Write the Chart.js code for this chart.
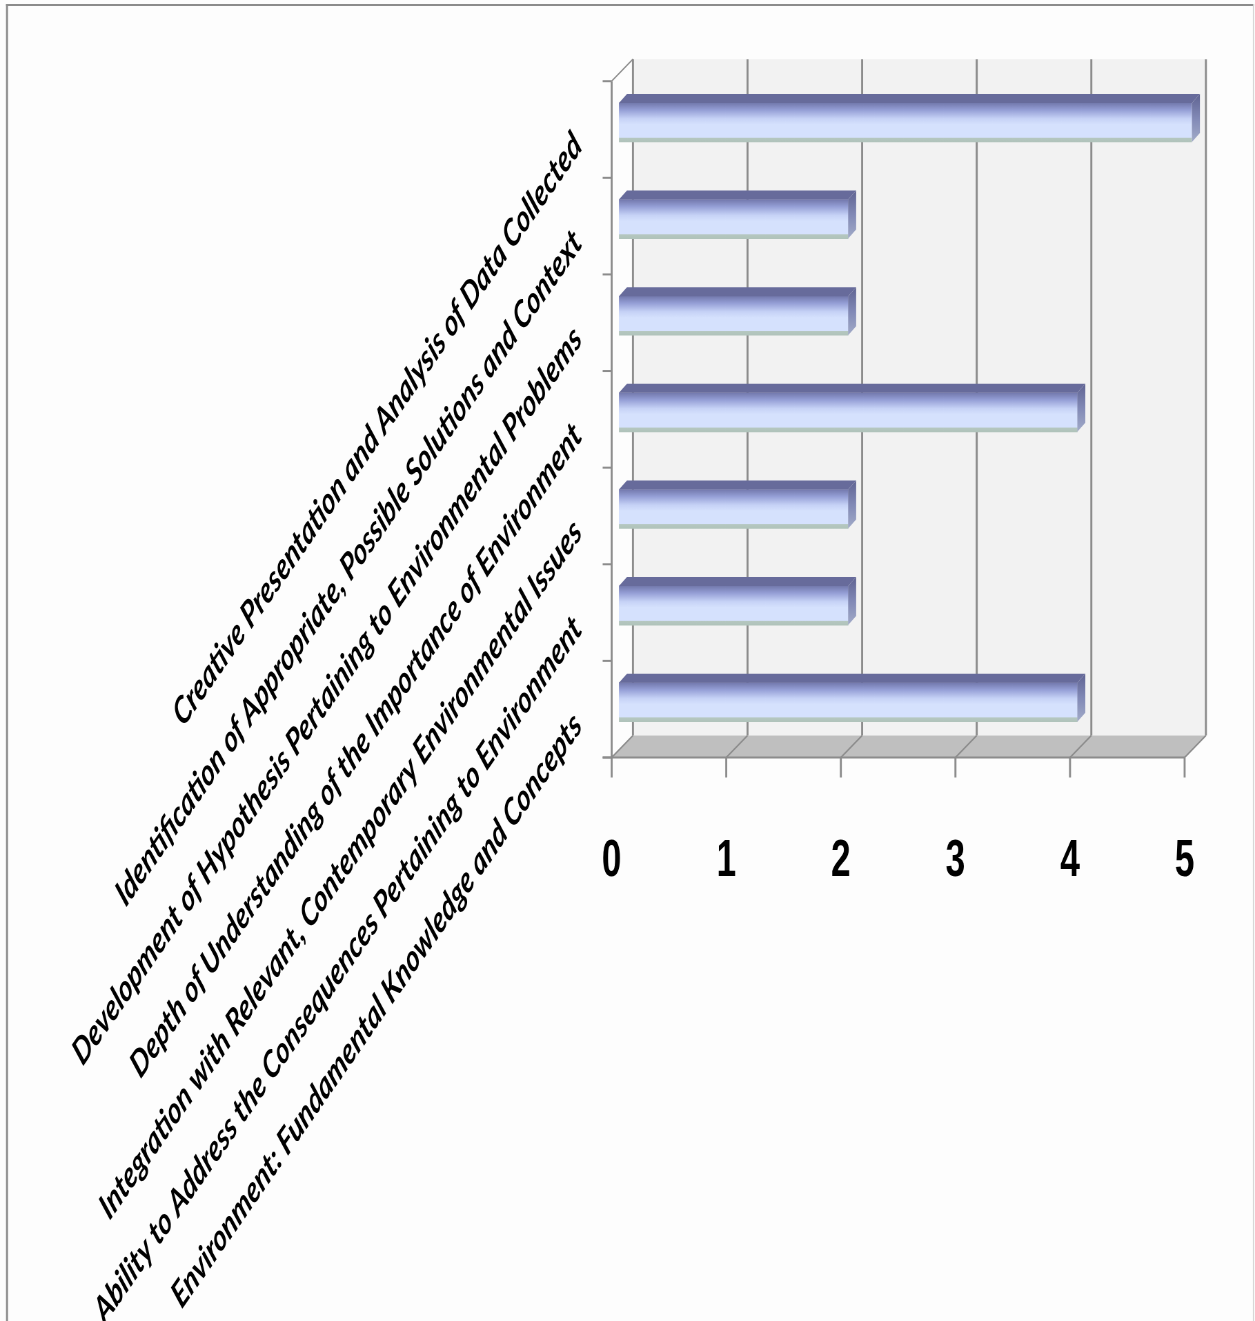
<!DOCTYPE html>
<html>
<head>
<meta charset="utf-8">
<script src="https://cdn.jsdelivr.net/npm/chart.js@4.4.1/dist/chart.umd.min.js"></script>
<style>
  html, body { margin: 0; padding: 0; background: #ffffff; overflow: hidden; }
</style>
</head>
<body>
<canvas id="chart" width="1819" height="1321" style="display:block;width:1255px;height:1321px"></canvas>
<script>
// data
const categories = [
  "Creative Presentation and Analysis of Data Collected",
  "Identification of Appropriate, Possible Solutions and Context",
  "Development of Hypothesis Pertaining to Environmental Problems",
  "Depth of Understanding of the Importance of Environment",
  "Integration with Relevant, Contemporary Environmental Issues",
  "Ability to Address the Consequences Pertaining to Environment",
  "Environment: Fundamental Knowledge and Concepts",
];
const values = [5, 2, 2, 4, 2, 2, 4];
const xTickLabels = ["0", "1", "2", "3", "4", "5"];

// the source picture is squeezed sideways, so the canvas is drawn wider and shown at 1255px
const SX = 0.69;
const W = 1819;
const H = 1321;

// 3D planes, relative to the bar plane (chart area)
const FRONT = { dx: -7.3 / SX, dy: 7 };
const BACK = { dx: 14 / SX, dy: -15 };
const DEPTH = { dx: 8 / SX, dy: -9 };
const BAR_THICK = 39;

const line = (ctx, x1, y1, x2, y2) => {
  ctx.beginPath();
  ctx.moveTo(x1, y1);
  ctx.lineTo(x2, y2);
  ctx.stroke();
};

const poly = (ctx, pts) => {
  ctx.beginPath();
  ctx.moveTo(pts[0][0], pts[0][1]);
  pts.slice(1).forEach((p) => ctx.lineTo(p[0], p[1]));
  ctx.closePath();
  ctx.fill();
};

const scene3d = {
  id: "scene3d",
  beforeDraw(chart) {
    const { ctx } = chart;
    ctx.save();
    ctx.fillStyle = "#fdfdfd";
    ctx.fillRect(0, 0, chart.width, chart.height);
    // outer frame
    ctx.fillStyle = "#8c8c8c";
    ctx.fillRect(6 / SX, 4, 2 / SX, H);
    ctx.fillRect(6 / SX, 4, (1254 - 6) / SX, 2);
    ctx.fillStyle = "#cfcfcf";
    ctx.fillRect(1253 / SX, 4, 1 / SX, H);
    ctx.restore();
  },
  beforeDatasetsDraw(chart) {
    const { ctx, chartArea: a, scales } = chart;
    const xs = scales.x.ticks.map((t) => scales.x.getPixelForValue(t.value));
    const bTop = a.top + BACK.dy;
    const bBot = a.bottom + BACK.dy;
    const fTop = a.top + FRONT.dy;
    const fBot = a.bottom + FRONT.dy;
    const x0 = a.left + FRONT.dx;
    const tickLen = 9 / SX;

    ctx.save();
    // back wall
    ctx.fillStyle = "#f2f2f2";
    ctx.fillRect(a.left + BACK.dx, bTop, a.right - a.left, bBot - bTop);
    // floor
    ctx.fillStyle = "#bfbfbf";
    poly(ctx, [
      [a.left + FRONT.dx, fBot],
      [a.right + FRONT.dx, fBot],
      [a.right + BACK.dx, bBot],
      [a.left + BACK.dx, bBot],
    ]);

    ctx.strokeStyle = "#8c8c8c";
    // back wall gridlines
    ctx.lineWidth = 2 / SX;
    xs.forEach((px) => line(ctx, px + BACK.dx, bTop, px + BACK.dx, bBot));
    // floor gridlines + corner diagonals
    ctx.lineWidth = 1.6;
    xs.forEach((px) => line(ctx, px + FRONT.dx, fBot, px + BACK.dx, bBot));
    line(ctx, x0, fTop, a.left + BACK.dx, bTop);

    // front value axis
    ctx.lineWidth = 2.2;
    line(ctx, x0 - tickLen, fBot, a.right + FRONT.dx, fBot);
    ctx.lineWidth = 2 / SX;
    xs.forEach((px) => line(ctx, px + FRONT.dx, fBot, px + FRONT.dx, fBot + 20));
    // front category axis
    line(ctx, x0, fTop, x0, fBot);
    ctx.lineWidth = 2;
    for (let i = 0; i <= categories.length; i++) {
      const yb = scales.y.getPixelForValue(i - 0.5) + FRONT.dy;
      line(ctx, x0 - tickLen, yb, x0, yb);
    }
    ctx.restore();
  },
  afterDatasetsDraw(chart) {
    const { ctx } = chart;
    const meta = chart.getDatasetMeta(0);
    ctx.save();
    meta.data.forEach((bar) => {
      const { x, y, base, height } = bar.getProps(["x", "y", "base", "height"], true);
      const top = y - height / 2;
      const bot = y + height / 2;
      // top face
      ctx.fillStyle = "#676b9b";
      poly(ctx, [
        [base, top],
        [base + DEPTH.dx, top + DEPTH.dy],
        [x + DEPTH.dx, top + DEPTH.dy],
        [x, top],
      ]);
      // side face
      const g = ctx.createLinearGradient(0, top + DEPTH.dy, 0, bot);
      g.addColorStop(0, "#5f6392");
      g.addColorStop(0.5, "#8189b6");
      g.addColorStop(1, "#a2abc8");
      ctx.fillStyle = g;
      poly(ctx, [
        [x, top],
        [x + DEPTH.dx, top + DEPTH.dy],
        [x + DEPTH.dx, bot + DEPTH.dy],
        [x, bot],
      ]);
    });
    ctx.restore();
  },
};

const frontFace = (c) => {
  const chart = c.chart;
  if (!chart.chartArea || c.type !== "data") return "#d4e0fc";
  const yc = chart.scales.y.getPixelForValue(c.dataIndex);
  const g = chart.ctx.createLinearGradient(0, yc - BAR_THICK / 2, 0, yc + BAR_THICK / 2);
  g.addColorStop(0, "#7379ad");
  g.addColorStop(0.18, "#959fd6");
  g.addColorStop(0.4, "#c6d2f6");
  g.addColorStop(0.55, "#d5e1fd");
  g.addColorStop(0.88, "#d5e1fd");
  g.addColorStop(0.9, "#b5c7c0");
  g.addColorStop(1, "#b0c3bb");
  return g;
};

new Chart(document.getElementById("chart"), {
  type: "bar",
  data: {
    labels: categories,
    datasets: [
      {
        data: values,
        backgroundColor: frontFace,
        borderWidth: 0,
        barThickness: BAR_THICK,
      },
    ],
  },
  plugins: [scene3d],
  options: {
    indexAxis: "y",
    responsive: false,
    devicePixelRatio: 1,
    animation: false,
    layout: {
      padding: { top: 74, right: W - 1192 / SX, bottom: 0, left: 0 },
    },
    plugins: {
      legend: { display: false },
      tooltip: { enabled: false },
    },
    scales: {
      x: {
        min: 0,
        max: 5,
        grid: { display: false },
        border: { display: false },
        ticks: {
          stepSize: 1,
          padding: 73,
          labelOffset: FRONT.dx,
          color: "#000000",
          font: { family: "Liberation Sans", weight: "bold", size: 51 },
          callback: (v, i) => xTickLabels[i],
        },
        afterFit: (scale) => {
          scale.height = H - 750.5;
        },
      },
      y: {
        grid: { display: false },
        border: { display: false },
        ticks: {
          autoSkip: false,
          minRotation: 45,
          maxRotation: 45,
          padding: 52,
          labelOffset: 17,
          color: "#000000",
          font: { family: "Lato", weight: "bold", style: "italic", size: 37 },
        },
        afterFit: (scale) => {
          scale.width = 619 / SX;
        },
      },
    },
  },
});
</script>
</body>
</html>
